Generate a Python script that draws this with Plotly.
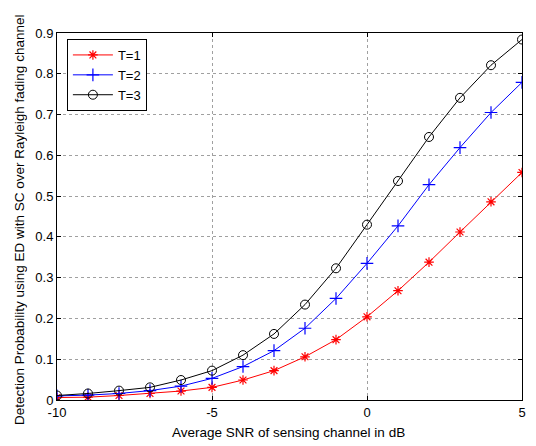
import plotly.graph_objects as go

snr_db = [-10, -9, -8, -7, -6, -5, -4, -3, -2, -1, 0, 1, 2, 3, 4, 5]
pd_t1 = [0.006, 0.007, 0.011, 0.016, 0.022, 0.031, 0.049, 0.072, 0.106, 0.148, 0.204, 0.268, 0.338, 0.412, 0.486, 0.558]
pd_t2 = [0.010, 0.012, 0.016, 0.023, 0.034, 0.053, 0.082, 0.121, 0.176, 0.249, 0.335, 0.427, 0.528, 0.619, 0.705, 0.779]
pd_t3 = [0.011, 0.016, 0.023, 0.031, 0.049, 0.072, 0.110, 0.162, 0.234, 0.323, 0.430, 0.537, 0.645, 0.741, 0.821, 0.884]

x_ticks = [-10, -5, 0, 5]
y_ticks = [0, 0.1, 0.2, 0.3, 0.4, 0.5, 0.6, 0.7, 0.8, 0.9]
y_tick_text = ["0", "0.1", "0.2", "0.3", "0.4", "0.5", "0.6", "0.7", "0.8", "0.9"]

FONT = "Liberation Sans, Arial, sans-serif"

fig = go.Figure()
fig.add_trace(go.Scatter(x=snr_db, y=pd_t1, mode="lines+markers", name="T=1",
                         line=dict(color="#ff0000", width=1),
                         marker=dict(symbol="asterisk-open", size=8, color="#ff0000",
                                     line=dict(color="#ff0000", width=1.2))))
fig.add_trace(go.Scatter(x=snr_db, y=pd_t2, mode="lines+markers", name="T=2",
                         line=dict(color="#0000ff", width=1),
                         marker=dict(symbol="cross-thin-open", size=9, color="#0000ff",
                                     line=dict(color="#0000ff", width=1.2))))
fig.add_trace(go.Scatter(x=snr_db, y=pd_t3, mode="lines+markers", name="T=3",
                         line=dict(color="#000000", width=1),
                         marker=dict(symbol="circle-open", size=9, color="#000000",
                                     line=dict(color="#000000", width=1))))

axis_common = dict(showline=True, linecolor="black", linewidth=1, mirror="ticks",
                   ticks="inside", ticklen=4, tickcolor="black",
                   showgrid=True, gridcolor="#a0a0a0", griddash="dot", gridwidth=1,
                   zeroline=False, tickfont=dict(family=FONT, size=13, color="black"))

fig.update_xaxes(range=[-10, 5], tickvals=x_ticks, ticktext=[str(v) for v in x_ticks], **axis_common)
fig.update_yaxes(range=[0, 0.9], tickvals=y_ticks, ticktext=y_tick_text, **axis_common)

fig.add_annotation(text="Average SNR of sensing channel in dB", xref="paper", yref="paper",
                   x=0.498, y=-0.0872, xanchor="center", yanchor="middle", showarrow=False,
                   font=dict(family=FONT, size=13.5, color="black"))
fig.add_annotation(text="Detection Probability using ED with SC over Rayleigh fading channel",
                   xref="paper", yref="paper", x=-0.0789, y=0.4905, xanchor="center", yanchor="middle",
                   textangle=-90, showarrow=False, width=445, align="center",
                   font=dict(family=FONT, size=13.5, color="black"))

fig.update_layout(width=536, height=446, margin=dict(l=57, r=10, t=33, b=46),
                  paper_bgcolor="white", plot_bgcolor="white",
                  legend=dict(x=0.0213, y=0.9837, xanchor="left", yanchor="top",
                              bgcolor="white", bordercolor="black", borderwidth=1,
                              font=dict(family=FONT, size=13, color="black"),
                              itemwidth=40, tracegroupgap=0),
                  showlegend=True)

fig.write_html("out.html")
